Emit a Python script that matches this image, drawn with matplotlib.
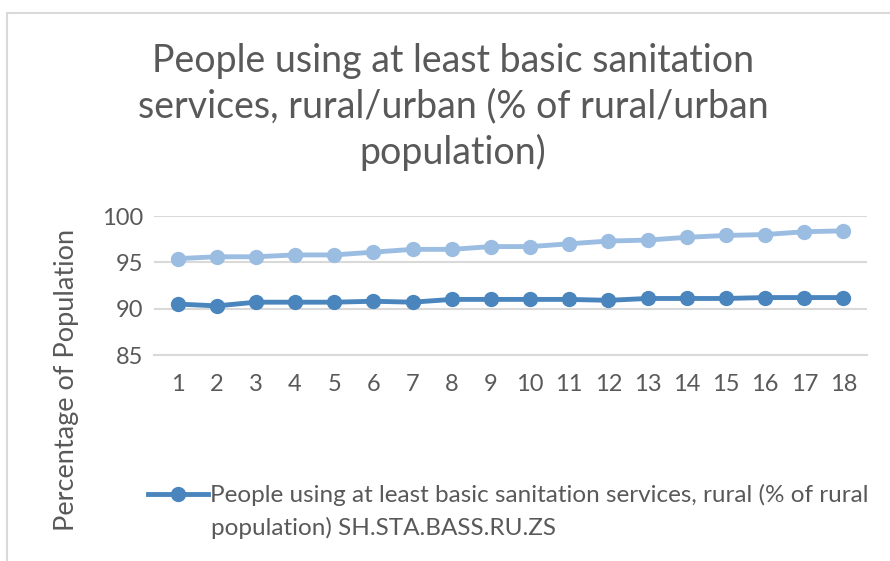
import matplotlib
matplotlib.use("Agg")
import matplotlib.pyplot as plt
from matplotlib.lines import Line2D

categories = list(range(1, 19))
urban = [95.4, 95.6, 95.6, 95.8, 95.8, 96.1, 96.4, 96.4, 96.7, 96.7, 97.0, 97.3, 97.4, 97.7, 97.9, 98.0, 98.3, 98.4]
rural = [90.5, 90.3, 90.7, 90.7, 90.7, 90.8, 90.7, 91.0, 91.0, 91.0, 91.0, 90.9, 91.1, 91.1, 91.1, 91.2, 91.2, 91.2]
yticks = [85, 90, 95, 100]
title = "People using at least basic sanitation\nservices, rural/urban (% of rural/urban\npopulation)"
ylabel = "Percentage of Population"
rural_label_1 = "People using at least basic sanitation services, rural (% of rural"
rural_label_2 = "population) SH.STA.BASS.RU.ZS"

plt.rcParams['font.family'] = ['Lato', 'DejaVu Sans']
W, H = 890, 561
fig = plt.figure(figsize=(W/100, H/100), dpi=100)
txt = '#595959'
grid = '#d9d9d9'

# chart border
fig.add_artist(Line2D([7/W, 1], [1-13/H, 1-13/H], color=grid, lw=1.5))
fig.add_artist(Line2D([7/W, 7/W], [0, 1-13/H], color=grid, lw=1.5))

left, right = 154/W, 867/W
bottom, top = 1-355/H, 1-216/H
ax = fig.add_axes([left, bottom, right-left, top-bottom])
c_rural = '#4a86bd'
c_urban = '#9bbde2'
ax.plot(categories, urban, color=c_urban, lw=3.5, marker='o', ms=10, zorder=3)
lr, = ax.plot(categories, rural, color=c_rural, lw=3.5, marker='o', ms=10, zorder=3)
ax.set_xlim(0.4, 18.6)
ax.set_ylim(85, 100)
ax.set_yticks(yticks)
ax.set_xticks(categories)
ax.grid(axis='y', color=grid, lw=1.5)
ax.set_axisbelow(True)
for s in ['top', 'right', 'left']:
    ax.spines[s].set_visible(False)
ax.spines['bottom'].set_color(grid)
ax.spines['bottom'].set_linewidth(1.5)
ax.tick_params(length=0, labelsize=17, colors=txt, pad=8)
ax.tick_params(axis='x', pad=14)

fig.text(453/W, 1-107/H, title, ha='center', va='center', fontsize=27, color=txt, linespacing=1.33)
fig.text(67/W, 1-380/H, ylabel, rotation=90, ha='center', va='center', fontsize=19.5, color=txt)

fig.legend(handles=[lr], labels=[rural_label_1], loc='center left', bbox_to_anchor=(148/W, 1-495/H),
           frameon=False, handlelength=2.45, handletextpad=0.1, fontsize=17.5, labelcolor=txt,
           borderaxespad=0, borderpad=0)
fig.text(211/W, 1-528/H, rural_label_2, ha='left', va='center', fontsize=17.5, color=txt)

fig.savefig('out.png', dpi=100)
